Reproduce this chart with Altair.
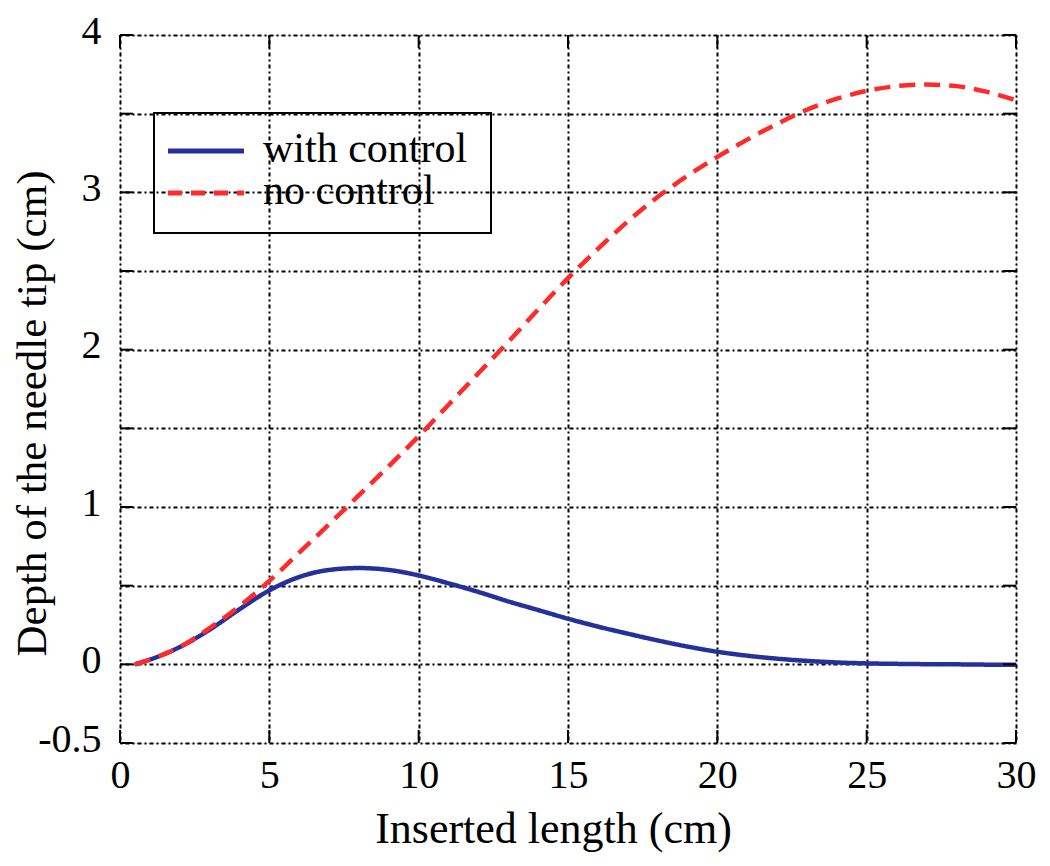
import altair as alt
import pandas as pd

# ---- data ----
x_vals = [0.5, 1, 2, 3, 4, 5, 6, 7, 8, 9, 10, 11, 12, 13, 14, 15, 16, 17, 18, 19, 20,
          21, 22, 23, 24, 25, 26, 27, 28, 29, 30]
with_control = [0.0, 0.03, 0.11, 0.22, 0.35, 0.47, 0.555, 0.60, 0.612, 0.60, 0.565, 0.515,
                0.46, 0.40, 0.345, 0.29, 0.24, 0.195, 0.152, 0.113, 0.08, 0.055, 0.036,
                0.022, 0.012, 0.006, 0.003, 0.001, 0.0, -0.002, -0.003]
no_control = [0.0, 0.03, 0.11, 0.23, 0.37, 0.53, 0.71, 0.89, 1.075, 1.26, 1.45, 1.65,
              1.85, 2.05, 2.255, 2.455, 2.64, 2.815, 2.97, 3.105, 3.225, 3.335, 3.435,
              3.525, 3.595, 3.645, 3.675, 3.685, 3.675, 3.64, 3.585]
series_names = ["with control", "no control"]
series_colors = ["#25309a", "#ff2a2a"]
x_ticks = [0, 5, 10, 15, 20, 25, 30]
y_ticks = [-0.5, 0, 0.5, 1, 1.5, 2, 2.5, 3, 3.5, 4]
x_title = "Inserted length (cm)"
y_title = "Depth of the needle tip (cm)"

W, H = 896, 708
FONT = "Liberation Serif"

rows = []
for name, ys in zip(series_names, [with_control, no_control]):
    for xv, yv in zip(x_vals, ys):
        rows.append({"x": xv, "y": yv, "series": name})
df = pd.DataFrame(rows)

xscale = alt.Scale(domain=[0, 30], nice=False, zero=False)
yscale = alt.Scale(domain=[-0.5, 4], nice=False, zero=False)

grid_dash = [2, 3, 4, 3]

xaxis = alt.Axis(values=x_ticks, title=x_title, grid=True, gridColor="black",
                 gridDash=grid_dash, gridWidth=2, gridOpacity=1, ticks=False,
                 domain=False, labelFont=FONT, labelFontSize=40, labelColor="black",
                 labelPadding=12, titleFont=FONT, titleFontSize=44,
                 titleFontWeight="normal", titleColor="black",
                 titleX=433, titleY=99, titleBaseline="alphabetic", titleAlign="center",
                 labelFlush=False, labelExpr="format(datum.value, 'd')")
yaxis = alt.Axis(values=y_ticks, title=y_title, grid=True, gridColor="black",
                 gridDash=grid_dash, gridWidth=2, gridOpacity=1, ticks=False,
                 domain=False, labelFont=FONT, labelFontSize=40, labelColor="black",
                 labelPadding=19, labelBaseline="middle", labelOffset=-4,
                 titleFont=FONT, titleFontSize=43,
                 titleFontWeight="normal", titleColor="black",
                 titleX=-75, titleY=378, titleAngle=-90, titleBaseline="alphabetic",
                 titleAlign="center", labelFlush=False,
                 labelExpr="datum.value == -0.5 ? '-0.5' : (datum.value % 1 == 0 ? format(datum.value, 'd') : '')")

lines = alt.Chart(df).mark_line(strokeWidth=4.5, interpolate="monotone").encode(
    x=alt.X("x:Q", scale=xscale, axis=xaxis),
    y=alt.Y("y:Q", scale=yscale, axis=yaxis),
    color=alt.Color("series:N", scale=alt.Scale(domain=series_names, range=series_colors), legend=None),
    strokeDash=alt.StrokeDash("series:N", scale=alt.Scale(domain=series_names, range=[[1, 0], [16, 9]]), legend=None),
    order=alt.Order("x:Q"),
)

xt = pd.DataFrame({"x": x_ticks})
yt = pd.DataFrame({"y": y_ticks})
TL = 13
tick_bottom = alt.Chart(xt).mark_rule(color="black", strokeWidth=2).encode(
    x=alt.X("x:Q", scale=xscale), y=alt.value(H), y2=alt.value(H - TL))
tick_top = alt.Chart(xt).mark_rule(color="black", strokeWidth=2).encode(
    x=alt.X("x:Q", scale=xscale), y=alt.value(0), y2=alt.value(TL))
tick_left = alt.Chart(yt).mark_rule(color="black", strokeWidth=2).encode(
    y=alt.Y("y:Q", scale=yscale), x=alt.value(0), x2=alt.value(TL))
tick_right = alt.Chart(yt).mark_rule(color="black", strokeWidth=2).encode(
    y=alt.Y("y:Q", scale=yscale), x=alt.value(W), x2=alt.value(W - TL))

# ---- legend (drawn as decoration) ----
one = pd.DataFrame({"k": [0]})
leg_box = alt.Chart(one).mark_rect(fill=None, stroke="black", strokeWidth=2).encode(
    x=alt.value(34), x2=alt.value(371), y=alt.value(78), y2=alt.value(198))
leg_line1 = alt.Chart(one).mark_rule(color=series_colors[0], strokeWidth=5).encode(
    x=alt.value(48), x2=alt.value(124), y=alt.value(116))
leg_line2 = alt.Chart(one).mark_rule(color=series_colors[1], strokeWidth=5, strokeDash=[14, 9]).encode(
    x=alt.value(48), x2=alt.value(124), y=alt.value(158))
leg_text1 = alt.Chart(pd.DataFrame({"t": [series_names[0]]})).mark_text(
    font=FONT, fontSize=42, align="left", baseline="alphabetic", color="black").encode(
    x=alt.value(143), y=alt.value(127), text="t:N")
leg_text2 = alt.Chart(pd.DataFrame({"t": [series_names[1]]})).mark_text(
    font=FONT, fontSize=42, align="left", baseline="alphabetic", color="black").encode(
    x=alt.value(143), y=alt.value(169), text="t:N")

chart = alt.layer(
    lines, tick_bottom, tick_top, tick_left, tick_right,
    leg_box, leg_line1, leg_line2, leg_text1, leg_text2
).properties(
    width=W, height=H,
    autosize=alt.AutoSizeParams(type="none"),
    padding={"left": 112, "top": 27, "right": 26, "bottom": 115},
).configure_view(stroke="black", strokeWidth=2.5).configure(background="white")

chart.save("out.html", embed_options={"renderer": "svg", "actions": False})
